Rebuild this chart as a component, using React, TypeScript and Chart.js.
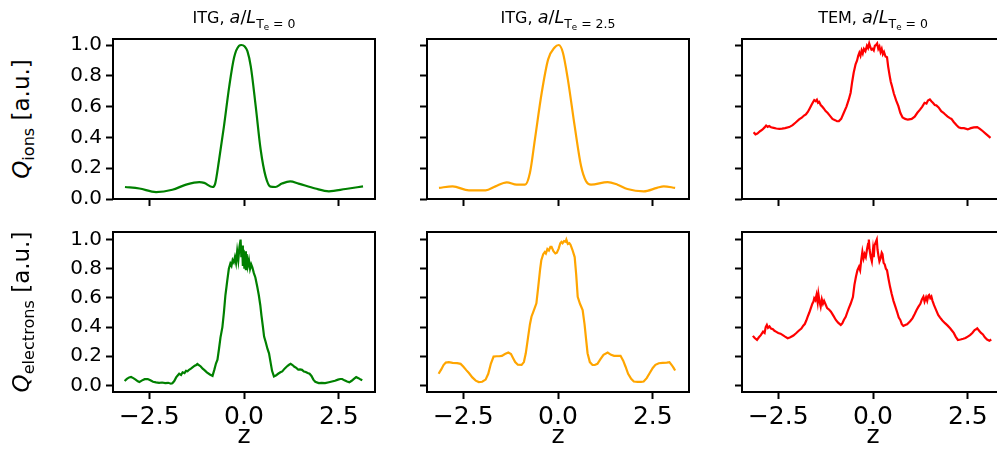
import React, { useEffect, useRef } from 'react';
import { Chart, registerables } from 'chart.js';

Chart.register(...registerables);

// ---------- data ----------
const X_TICKS = [-2.5, 0, 2.5];
const Y_TICKS = [0, 0.2, 0.4, 0.6, 0.8, 1.0];
const X_RANGE = [-3.456, 3.456];
const Y_RANGE_TOP = [0.0, 1.039];
const Y_RANGE_BOTTOM = [-0.045, 1.052];

const TITLE_PREFIXES = ['ITG', 'ITG', 'TEM'];
const TITLE_GRADIENTS = ['0', '2.5', '0'];
const Y_LABEL_SUBS = ['ions', 'electrons'];
const X_LABEL = 'z';

// Q_ions, ITG, a/LTe = 0
const zIonsItg0 = [-3.14, -2.76, -2.32, -1.89, -1.53, -1.18, -1.05, -0.83, -0.76, -0.66, -0.53, -0.39, -0.26, -0.13, -0.07, 0.02, 0.09, 0.18, 0.31, 0.44, 0.57, 0.70, 0.83, 1.0, 1.22, 1.44, 1.88, 2.24, 2.68, 3.14];
const qIonsItg0 = [0.078, 0.068, 0.045, 0.06, 0.093, 0.11, 0.105, 0.078, 0.10, 0.25, 0.47, 0.73, 0.92, 0.995, 1.0, 0.99, 0.96, 0.86, 0.60, 0.32, 0.147, 0.08, 0.078, 0.10, 0.115, 0.10, 0.068, 0.05, 0.065, 0.082];

// Q_ions, ITG, a/LTe = 2.5
const zIonsItg25 = [-3.14, -2.78, -2.35, -1.91, -1.65, -1.35, -1.09, -0.87, -0.74, -0.61, -0.43, -0.26, -0.09, 0.02, 0.13, 0.26, 0.44, 0.61, 0.74, 0.87, 1.31, 1.57, 1.83, 2.26, 2.61, 2.79, 3.09];
const qIonsItg25 = [0.072, 0.082, 0.056, 0.056, 0.082, 0.108, 0.093, 0.093, 0.17, 0.386, 0.69, 0.907, 0.984, 1.0, 0.95, 0.777, 0.473, 0.212, 0.115, 0.093, 0.11, 0.093, 0.065, 0.05, 0.072, 0.082, 0.072];

// Q_ions, TEM, a/LTe = 0
const zIonsTem = [-3.15, -3.10, -3.05, -2.98, -2.92, -2.86, -2.82, -2.78, -2.74, -2.69, -2.62, -2.55, -2.47, -2.40, -2.32, -2.21, -2.12, -2.04, -1.95, -1.88, -1.82, -1.77, -1.72, -1.67, -1.62, -1.58, -1.55, -1.51, -1.48, -1.45, -1.42, -1.38, -1.34, -1.30, -1.25, -1.20, -1.15, -1.07, -1.00, -0.95, -0.90, -0.84, -0.77, -0.70, -0.64, -0.59, -0.55, -0.51, -0.46, -0.42, -0.39, -0.36, -0.33, -0.30, -0.27, -0.24, -0.20, -0.16, -0.13, -0.10, -0.07, -0.04, -0.01, 0.02, 0.05, 0.08, 0.11, 0.14, 0.17, 0.20, 0.23, 0.26, 0.29, 0.33, 0.37, 0.40, 0.44, 0.47, 0.50, 0.55, 0.61, 0.67, 0.72, 0.78, 0.85, 0.92, 1.02, 1.10, 1.17, 1.24, 1.30, 1.36, 1.41, 1.45, 1.50, 1.54, 1.58, 1.63, 1.67, 1.73, 1.80, 1.86, 1.90, 1.97, 2.03, 2.07, 2.13, 2.20, 2.26, 2.32, 2.40, 2.50, 2.58, 2.66, 2.75, 2.82, 2.90, 2.97, 3.04, 3.10];
const qIonsTem = [0.434, 0.42, 0.425, 0.44, 0.45, 0.465, 0.477, 0.468, 0.474, 0.466, 0.462, 0.458, 0.456, 0.457, 0.46, 0.467, 0.48, 0.497, 0.517, 0.528, 0.542, 0.55, 0.565, 0.588, 0.612, 0.63, 0.642, 0.635, 0.645, 0.625, 0.63, 0.61, 0.6, 0.588, 0.571, 0.56, 0.545, 0.52, 0.512, 0.505, 0.506, 0.52, 0.56, 0.60, 0.645, 0.69, 0.76, 0.82, 0.875, 0.90, 0.93, 0.95, 0.93, 0.965, 0.945, 0.975, 0.96, 0.995, 0.98, 1.01, 0.985, 0.97, 0.975, 0.965, 0.995, 1.0, 1.01, 0.975, 0.99, 0.955, 0.975, 0.94, 0.955, 0.925, 0.92, 0.86, 0.80, 0.76, 0.734, 0.685, 0.64, 0.603, 0.56, 0.53, 0.52, 0.515, 0.52, 0.535, 0.56, 0.58, 0.60, 0.625, 0.62, 0.64, 0.647, 0.635, 0.625, 0.61, 0.608, 0.595, 0.57, 0.56, 0.55, 0.535, 0.525, 0.52, 0.50, 0.48, 0.465, 0.46, 0.46, 0.452, 0.46, 0.465, 0.467, 0.455, 0.44, 0.425, 0.41, 0.397];

// Q_electrons, ITG, a/LTe = 0
const zElecItg0 = [-3.15, -3.09, -3.03, -2.98, -2.92, -2.86, -2.80, -2.76, -2.70, -2.62, -2.54, -2.47, -2.40, -2.32, -2.24, -2.16, -2.08, -2.00, -1.93, -1.89, -1.84, -1.79, -1.75, -1.71, -1.66, -1.62, -1.57, -1.53, -1.49, -1.45, -1.40, -1.35, -1.30, -1.26, -1.23, -1.19, -1.14, -1.09, -1.05, -0.98, -0.90, -0.83, -0.78, -0.74, -0.70, -0.66, -0.62, -0.57, -0.53, -0.49, -0.46, -0.44, -0.40, -0.36, -0.33, -0.30, -0.27, -0.24, -0.21, -0.18, -0.15, -0.12, -0.09, -0.07, -0.05, -0.03, -0.01, 0.01, 0.03, 0.05, 0.07, 0.10, 0.13, 0.16, 0.19, 0.22, 0.26, 0.30, 0.35, 0.39, 0.43, 0.46, 0.50, 0.53, 0.57, 0.62, 0.66, 0.70, 0.74, 0.79, 0.84, 0.90, 0.96, 1.01, 1.07, 1.13, 1.18, 1.23, 1.28, 1.33, 1.38, 1.43, 1.48, 1.53, 1.58, 1.63, 1.68, 1.73, 1.78, 1.83, 1.88, 1.97, 2.05, 2.14, 2.24, 2.32, 2.40, 2.48, 2.54, 2.59, 2.65, 2.72, 2.78, 2.84, 2.90, 2.96, 3.02, 3.08, 3.12];
const qElecItg0 = [0.03, 0.045, 0.055, 0.058, 0.05, 0.04, 0.028, 0.023, 0.033, 0.043, 0.044, 0.035, 0.025, 0.021, 0.018, 0.02, 0.016, 0.018, 0.012, 0.015, 0.03, 0.055, 0.068, 0.08, 0.072, 0.09, 0.085, 0.1, 0.097, 0.107, 0.115, 0.125, 0.135, 0.14, 0.148, 0.14, 0.13, 0.115, 0.107, 0.09, 0.075, 0.066, 0.11, 0.15, 0.176, 0.25, 0.33, 0.40, 0.50, 0.62, 0.68, 0.722, 0.80, 0.836, 0.82, 0.86, 0.845, 0.88, 0.84, 0.92, 0.86, 0.95, 1.0, 0.88, 0.96, 0.82, 0.93, 0.80, 0.92, 0.79, 0.90, 0.82, 0.86, 0.80, 0.83, 0.81, 0.77, 0.74, 0.676, 0.62, 0.55, 0.48, 0.40, 0.335, 0.30, 0.25, 0.22, 0.16, 0.10, 0.062, 0.068, 0.08, 0.09, 0.096, 0.115, 0.13, 0.14, 0.148, 0.14, 0.128, 0.12, 0.108, 0.11, 0.107, 0.095, 0.092, 0.085, 0.08, 0.065, 0.04, 0.025, 0.016, 0.018, 0.016, 0.022, 0.027, 0.032, 0.04, 0.044, 0.044, 0.035, 0.027, 0.021, 0.032, 0.045, 0.057, 0.05, 0.04, 0.035];

// Q_electrons, ITG, a/LTe = 2.5
const zElecItg25 = [-3.15, -3.08, -3.02, -2.96, -2.88, -2.78, -2.66, -2.57, -2.50, -2.42, -2.35, -2.26, -2.17, -2.09, -2.00, -1.91, -1.84, -1.77, -1.70, -1.62, -1.55, -1.48, -1.40, -1.31, -1.24, -1.18, -1.13, -1.06, -0.96, -0.90, -0.85, -0.79, -0.74, -0.70, -0.63, -0.57, -0.52, -0.47, -0.44, -0.39, -0.35, -0.32, -0.28, -0.24, -0.20, -0.17, -0.12, -0.07, -0.03, 0.02, 0.06, 0.09, 0.12, 0.16, 0.20, 0.22, 0.26, 0.30, 0.33, 0.38, 0.44, 0.48, 0.52, 0.58, 0.65, 0.70, 0.74, 0.78, 0.84, 0.91, 0.97, 1.04, 1.12, 1.20, 1.31, 1.40, 1.48, 1.57, 1.65, 1.72, 1.78, 1.85, 1.93, 2.00, 2.10, 2.19, 2.26, 2.34, 2.42, 2.50, 2.57, 2.66, 2.76, 2.87, 2.94, 3.00, 3.05, 3.09];
const qElecItg25 = [0.08, 0.11, 0.14, 0.157, 0.16, 0.155, 0.153, 0.148, 0.13, 0.105, 0.085, 0.055, 0.033, 0.023, 0.025, 0.04, 0.08, 0.15, 0.198, 0.20, 0.20, 0.203, 0.215, 0.226, 0.215, 0.185, 0.16, 0.142, 0.141, 0.16, 0.22, 0.33, 0.42, 0.471, 0.52, 0.563, 0.68, 0.80, 0.859, 0.90, 0.915, 0.905, 0.935, 0.925, 0.95, 0.95, 0.92, 0.905, 0.91, 0.94, 0.975, 0.984, 0.975, 0.99, 0.985, 1.0, 0.97, 0.975, 0.965, 0.93, 0.88, 0.76, 0.608, 0.56, 0.517, 0.42, 0.32, 0.221, 0.16, 0.14, 0.14, 0.148, 0.18, 0.21, 0.226, 0.21, 0.203, 0.203, 0.203, 0.17, 0.13, 0.08, 0.045, 0.027, 0.025, 0.025, 0.027, 0.05, 0.085, 0.12, 0.141, 0.152, 0.155, 0.157, 0.16, 0.14, 0.12, 0.102];

// Q_electrons, TEM, a/LTe = 0
const zElecTem = [-3.17, -3.12, -3.06, -3.01, -2.96, -2.90, -2.86, -2.83, -2.80, -2.77, -2.73, -2.69, -2.64, -2.60, -2.56, -2.50, -2.44, -2.38, -2.32, -2.25, -2.18, -2.10, -2.03, -1.96, -1.89, -1.84, -1.80, -1.76, -1.73, -1.68, -1.64, -1.60, -1.57, -1.55, -1.52, -1.49, -1.46, -1.44, -1.41, -1.38, -1.35, -1.32, -1.29, -1.25, -1.21, -1.16, -1.11, -1.05, -0.98, -0.92, -0.85, -0.81, -0.77, -0.72, -0.68, -0.64, -0.59, -0.53, -0.49, -0.45, -0.41, -0.37, -0.34, -0.31, -0.28, -0.25, -0.22, -0.19, -0.16, -0.13, -0.11, -0.09, -0.06, -0.03, 0.00, 0.02, 0.04, 0.07, 0.10, 0.12, 0.15, 0.17, 0.20, 0.23, 0.25, 0.28, 0.31, 0.34, 0.37, 0.41, 0.45, 0.49, 0.54, 0.59, 0.64, 0.68, 0.72, 0.76, 0.80, 0.85, 0.90, 0.98, 1.04, 1.10, 1.15, 1.20, 1.25, 1.29, 1.33, 1.36, 1.40, 1.43, 1.46, 1.48, 1.51, 1.54, 1.57, 1.61, 1.66, 1.72, 1.77, 1.83, 1.90, 1.97, 2.04, 2.07, 2.13, 2.18, 2.24, 2.31, 2.38, 2.44, 2.50, 2.56, 2.62, 2.68, 2.72, 2.75, 2.80, 2.85, 2.90, 2.95, 3.01, 3.07, 3.12];
const qElecTem = [0.34, 0.325, 0.312, 0.33, 0.345, 0.369, 0.36, 0.40, 0.415, 0.395, 0.405, 0.39, 0.385, 0.375, 0.369, 0.36, 0.355, 0.345, 0.335, 0.324, 0.33, 0.342, 0.358, 0.375, 0.39, 0.41, 0.421, 0.445, 0.467, 0.50, 0.53, 0.56, 0.575, 0.597, 0.585, 0.62, 0.57, 0.626, 0.575, 0.54, 0.59, 0.56, 0.58, 0.555, 0.53, 0.52, 0.506, 0.48, 0.449, 0.43, 0.415, 0.425, 0.449, 0.47, 0.50, 0.528, 0.56, 0.606, 0.69, 0.745, 0.79, 0.813, 0.79, 0.86, 0.916, 0.87, 0.90, 0.88, 0.93, 0.97, 1.0, 0.93, 0.88, 0.85, 0.93, 0.88, 0.96, 0.98, 1.0, 0.93, 0.88, 0.85, 0.87, 0.91, 0.90, 0.84, 0.83, 0.80, 0.79, 0.73, 0.676, 0.63, 0.58, 0.54, 0.50, 0.465, 0.449, 0.42, 0.408, 0.415, 0.42, 0.44, 0.46, 0.49, 0.517, 0.54, 0.56, 0.59, 0.608, 0.575, 0.605, 0.58, 0.615, 0.62, 0.60, 0.61, 0.58, 0.55, 0.52, 0.483, 0.465, 0.445, 0.427, 0.41, 0.39, 0.38, 0.36, 0.335, 0.312, 0.315, 0.32, 0.325, 0.335, 0.345, 0.36, 0.38, 0.385, 0.392, 0.375, 0.36, 0.35, 0.33, 0.315, 0.307, 0.315];

// ---------- layout / style ----------
const FONT = '"DejaVu Sans", sans-serif';
const COL_LEFTS = [113, 427, 742];
const ROW_TOPS = [39, 232];
const PANEL_W = 262;
const PANEL_H = 160;
const AX_W = 70; // y-axis box width
const AX_H = 45; // x-axis box height
const PAD_T = 20;
const PAD_R = 20;

type PanelProps = {
  left: number; top: number; z: number[]; q: number[]; color: string;
  yRange: number[]; showXLabels: boolean; showYLabels: boolean; smooth: boolean;
};

const framePlugin = {
  id: 'frame',
  afterDatasetsDraw(chart: any) {
    const { ctx, chartArea } = chart;
    ctx.save();
    ctx.strokeStyle = '#000';
    ctx.lineWidth = 2;
    ctx.strokeRect(chartArea.left, chartArea.top, chartArea.right - chartArea.left, chartArea.bottom - chartArea.top);
    ctx.restore();
  },
};

const fmt = (v: number) => (v < 0 ? '\u2212' : '') + Math.abs(v).toFixed(1);

function Panel(p: PanelProps) {
  const ref = useRef<HTMLCanvasElement | null>(null);
  const cw = AX_W + PANEL_W + PAD_R;
  const ch = PAD_T + PANEL_H + AX_H;
  useEffect(() => {
    if (!ref.current) return;
    const grid = {
      display: true, drawOnChartArea: false, drawTicks: true,
      tickLength: 7, tickWidth: 2, tickColor: '#000',
    };
    const chart = new Chart(ref.current, {
      type: 'line',
      data: {
        datasets: [{
          data: p.z.map((x, i) => ({ x, y: p.q[i] })),
          borderColor: p.color, borderWidth: 2.2, pointRadius: 0, fill: false,
          tension: 0, cubicInterpolationMode: p.smooth ? 'monotone' : 'default',
        }],
      },
      options: {
        animation: false, responsive: false, events: [],
        devicePixelRatio: 1,
        layout: { padding: { top: PAD_T, right: PAD_R, left: 0, bottom: 0 } },
        plugins: { legend: { display: false }, tooltip: { enabled: false }, title: { display: false } },
        scales: {
          x: {
            type: 'linear', min: X_RANGE[0], max: X_RANGE[1],
            afterBuildTicks: (s: any) => { s.ticks = X_TICKS.map((value) => ({ value })); },
            afterFit: (s: any) => { s.height = AX_H; },
            grid, border: { display: false },
            ticks: {
              autoSkip: false, maxRotation: 0, padding: 3, color: '#000',
              font: { family: FONT, size: 25 },
              callback: (v: any) => (p.showXLabels ? fmt(Number(v)) : ''),
            },
          },
          y: {
            type: 'linear', min: p.yRange[0], max: p.yRange[1],
            afterBuildTicks: (s: any) => { s.ticks = Y_TICKS.map((value) => ({ value })); },
            afterFit: (s: any) => { s.width = AX_W; },
            grid, border: { display: false },
            ticks: {
              autoSkip: false, padding: 4, color: '#000',
              font: { family: FONT, size: 20 },
              callback: (v: any) => (p.showYLabels ? fmt(Number(v)) : ''),
            },
          },
        },
      },
      plugins: [framePlugin],
    } as any);
    return () => chart.destroy();
  }, []);
  return (
    <canvas
      ref={ref}
      width={cw}
      height={ch}
      style={{ position: 'absolute', left: p.left - AX_W, top: p.top - PAD_T, width: cw, height: ch }}
    />
  );
}

function Title({ cx, prefix, grad }: { cx: number; prefix: string; grad: string }) {
  const size = 16;
  return (
    <div style={{ position: 'absolute', left: cx, top: 23 - 0.846 * size, transform: 'translateX(-50%)', fontSize: size, lineHeight: 1, whiteSpace: 'nowrap', fontFamily: FONT, color: '#000' }}>
      {prefix}, <span style={{ fontStyle: 'italic', fontSize: '1.1em' }}>a</span><span style={{ fontSize: '1.1em' }}>/</span><span style={{ fontStyle: 'italic', fontSize: '1.1em' }}>L</span>
      <span style={{ fontSize: '78%', position: 'relative', top: '0.35em' }}>
        T<span style={{ fontSize: '70%', position: 'relative', top: '0.3em' }}>e</span>
        {' = ' + grad}
      </span>
    </div>
  );
}

function YLabel({ cy, sub }: { cy: number; sub: string }) {
  const size = 23;
  return (
    <div style={{ position: 'absolute', left: 21, top: cy, transform: 'translate(-50%, -50%) rotate(-90deg)', fontSize: size, lineHeight: 1, whiteSpace: 'nowrap', fontFamily: FONT, color: '#000' }}>
      <span style={{ fontStyle: 'italic' }}>Q</span>
      <span style={{ fontSize: '70%', position: 'relative', top: '0.3em' }}>{sub}</span>
      {' [a.u.]'}
    </div>
  );
}

export default function App() {
  const rows = [
    [
      { z: zIonsItg0, q: qIonsItg0, color: 'green', smooth: true },
      { z: zIonsItg25, q: qIonsItg25, color: 'orange', smooth: true },
      { z: zIonsTem, q: qIonsTem, color: 'red', smooth: false },
    ],
    [
      { z: zElecItg0, q: qElecItg0, color: 'green', smooth: false },
      { z: zElecItg25, q: qElecItg25, color: 'orange', smooth: false },
      { z: zElecTem, q: qElecTem, color: 'red', smooth: false },
    ],
  ];
  const zSize = 25;
  return (
    <div style={{ position: 'fixed', left: 0, top: 0, width: 997, height: 453, overflow: 'hidden', background: '#fff' }}>
      {rows.map((row, r) =>
        row.map((s, c) => (
          <Panel key={`${r}-${c}`} left={COL_LEFTS[c]} top={ROW_TOPS[r]} z={s.z} q={s.q} color={s.color}
            yRange={r === 0 ? Y_RANGE_TOP : Y_RANGE_BOTTOM} showXLabels={r === 1} showYLabels={c === 0} smooth={s.smooth} />
        ))
      )}
      {TITLE_PREFIXES.map((t, c) => (
        <Title key={t + c} cx={COL_LEFTS[c] + PANEL_W / 2} prefix={t} grad={TITLE_GRADIENTS[c]} />
      ))}
      {Y_LABEL_SUBS.map((s, r) => (
        <YLabel key={s} cy={ROW_TOPS[r] + PANEL_H / 2} sub={s} />
      ))}
      {COL_LEFTS.map((l, c) => (
        <div key={'xl' + c} style={{ position: 'absolute', left: l + PANEL_W / 2, top: 443 - 0.846 * zSize, transform: 'translateX(-50%)', fontSize: zSize, lineHeight: 1, fontFamily: FONT, color: '#000' }}>{X_LABEL}</div>
      ))}
    </div>
  );
}
